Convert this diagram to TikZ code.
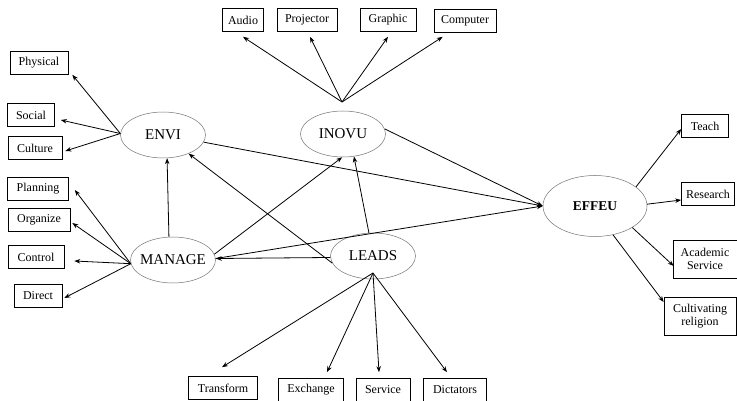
\documentclass[tikz,border=0pt]{standalone}
\usepackage{fontspec}
\setmainfont{Liberation Serif}
\usetikzlibrary{arrows.meta,shapes.geometric}
\tikzset{
  box/.style={draw, line width=0.6pt, inner sep=2pt, minimum height=23pt, align=center,
    font=\fontsize{12}{13}\selectfont},
  latent/.style={ellipse, draw=black!55, line width=0.5pt, minimum width=85pt, minimum height=46pt,
    inner sep=0pt, font=\fontsize{15}{16}\selectfont},
  link/.style={-{Stealth[length=6pt,width=4.5pt]}, line width=0.8pt},
}

\begin{document}
\begin{tikzpicture}[x=1pt,y=-1pt]
%%%%% START %%%%%
\useasboundingbox (0,0) rectangle (737,401);

% constructs
\node[latent] (envi) at (163,135) {\makebox[0pt]{ENVI}};
\node[latent] (inovu) at (343,134) {\makebox[0pt]{INOVU}};
\node[latent] (manage) at (173,260) {\makebox[0pt]{MANAGE}};
\node[latent] (leads) at (373,256) {\makebox[0pt]{LEADS}};
\node[latent, minimum width=104pt, minimum height=61pt,
  font=\bfseries\fontsize{13.5}{14}\selectfont] (effeu) at (595,206) {\makebox[0pt]{EFFEU}};

% left indicators
\node[box, minimum width=58pt] (phys) at (39,63) {Physical};
\node[box, minimum width=47pt] (soc) at (31,115) {Social};
\node[box, minimum width=54pt] (cult) at (35,148) {Culture};
\node[box, minimum width=61pt] (plan) at (38,189) {Planning};
\node[box, minimum width=62pt] (org) at (39,220) {Organize};
\node[box, minimum width=56pt] (ctrl) at (36,257) {Control};
\node[box, minimum width=48pt] (dir) at (38,296) {Direct};

% top indicators
\node[box, minimum width=41pt] (audio) at (243,20) {Audio};
\node[box, minimum width=60pt] (proj) at (307,20) {Projector};
\node[box, minimum width=56pt] (graph) at (388,20) {Graphic};
\node[box, minimum width=62pt] (comp) at (465,21) {Computer};

% right indicators
\node[box, minimum width=47pt] (teach) at (705,126) {Teach};
\node[box, minimum width=53pt] (res) at (708,194) {Research};
\node[box, minimum width=64pt, minimum height=38pt] (acad) at (705,259) {Academic\\Service};
\node[box, minimum width=72pt, minimum height=38pt] (relig) at (700,316) {Cultivating\\religion};

% bottom indicators
\node[box, minimum width=69pt] (trans) at (223,388) {Transform};
\node[box, minimum width=65pt] (exch) at (311,390) {Exchange};
\node[box, minimum width=54pt] (serv) at (383,390) {Service};
\node[box, minimum width=63pt] (dict) at (455,390) {Dictators};

\coordinate (inovufan) at (342,102);
\coordinate (leadsfan) at (373,273);

% ENVI
\draw[link] (envi.178) -- ([shift={(4,0)}]phys.south east);
\draw[link] (envi.178) -- ([shift={(6,5)}]soc.east);
\draw[link] (envi.178) -- ([shift={(3,3)}]cult.east);

% MANAGE
\draw[link] (manage.185) -- ([shift={(6,1)}]plan.east);
\draw[link] (manage.185) -- ([shift={(2,3)}]org.east);
\draw[link] (manage.185) -- ([shift={(10,4)}]ctrl.east);
\draw[link] (manage.185) -- ([shift={(2,2)}]dir.east);

% INOVU
\draw[link] (inovufan) -- ([shift={(0,5)}]audio.south);
\draw[link] (inovufan) -- ([shift={(3,5)}]proj.south);
\draw[link] (inovufan) -- ([shift={(0,5)}]graph.south);
\draw[link] (inovufan) -- ([shift={(9,4)}]comp.south west);

% LEADS
\draw[link] (leadsfan) -- ([shift={(-1,-9)}]trans.north);
\draw[link] (leadsfan) -- ([shift={(16,-6)}]exch.north);
\draw[link] (leadsfan) -- ([shift={(-4,-6)}]serv.north);
\draw[link] (leadsfan) -- ([shift={(-8,-6)}]dict.north);

% EFFEU
\draw[link] (effeu.25) -- ([shift={(0,3)}]teach.west);
\draw[link] (effeu.2) -- ([shift={(0,6)}]res.west);
\draw[link] (effeu.-30) -- ([shift={(1,7)}]acad.west);
\draw[link] (effeu.-58) -- ([shift={(0,-14)}]relig.west);

% paths between constructs
\draw[link] (envi.-10) -- (effeu.west);
\draw[link] (inovu.7) -- (effeu.west);
\draw[link] (manage.2) -- (effeu.west);
\draw[link] (manage.100) -- (envi.-80);
\draw[link] (manage.8) -- (inovu.-92);
\draw[link] (leads.190) -- (envi.-36);
\draw[link] (leads.100) -- (inovu.-64);
\draw[link] (leads.182) -- (manage.2);

%%%%% END %%%%%
\end{tikzpicture}
\end{document}
